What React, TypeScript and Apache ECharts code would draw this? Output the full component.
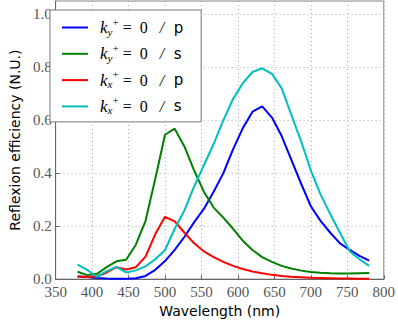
import React, { useEffect, useRef } from "react";
import * as echarts from "echarts";

const wavelengths = [
  380, 393.3, 406.7, 420, 433.3, 446.7, 460, 473.3, 486.7, 500, 513.3, 526.7, 540, 553.3, 566.7, 580,
  593.3, 606.7, 620, 633.3, 646.7, 660, 673.3, 686.7, 700, 713.3, 726.7, 740, 753.3, 766.7, 780,
];

const kyP = [
  0.01, 0.008, 0.004, 0.002, 0.001, 0.001, 0.003, 0.012, 0.035, 0.068, 0.11, 0.16, 0.215, 0.265, 0.33,
  0.4, 0.49, 0.57, 0.632, 0.652, 0.61, 0.54, 0.45, 0.36, 0.275, 0.22, 0.175, 0.135, 0.11, 0.088, 0.07,
];

const kyS = [
  0.028, 0.015, 0.02, 0.045, 0.067, 0.073, 0.13, 0.22, 0.38, 0.545, 0.568, 0.5, 0.41, 0.33, 0.27, 0.232,
  0.19, 0.145, 0.11, 0.083, 0.065, 0.05, 0.04, 0.032, 0.027, 0.024, 0.022, 0.021, 0.021, 0.022, 0.023,
];

const kxP = [
  0.01, 0.008, 0.01, 0.025, 0.045, 0.036, 0.045, 0.085, 0.17, 0.235, 0.218, 0.175, 0.135, 0.105, 0.083,
  0.065, 0.05, 0.038, 0.029, 0.022, 0.016, 0.012, 0.009, 0.007, 0.005, 0.004, 0.003, 0.002, 0.002, 0.001,
  0.001,
];

const kxS = [
  0.055, 0.035, 0.008, 0.03, 0.046, 0.025, 0.033, 0.048, 0.075, 0.11, 0.19, 0.26, 0.35, 0.43, 0.51, 0.6,
  0.68, 0.74, 0.782, 0.796, 0.775, 0.72, 0.62, 0.52, 0.41, 0.32, 0.245, 0.175, 0.105, 0.075, 0.05,
];

const xTicks = [350, 400, 450, 500, 550, 600, 650, 700, 750, 800];
const yTicks = [0.0, 0.2, 0.4, 0.6, 0.8, 1.0];

const seriesDefs = [
  { id: "kyP", sub: "y", sup: "+", pol: "p", color: "#0000ff", data: kyP },
  { id: "kyS", sub: "y", sup: "+", pol: "s", color: "#008000", data: kyS },
  { id: "kxP", sub: "x", sup: "+", pol: "p", color: "#ff0000", data: kxP },
  { id: "kxS", sub: "x", sup: "+", pol: "s", color: "#00bfbf", data: kxS },
];

const serif = "Liberation Serif";
const sans = "DejaVu Sans";

export default function App() {
  const ref = useRef<HTMLDivElement>(null);
  useEffect(() => {
    if (!ref.current) return;
    const chart = echarts.init(ref.current, undefined, { renderer: "svg" });
    const labelMap: Record<string, string> = {};
    seriesDefs.forEach((s) => {
      labelMap[s.id] = `{k|k}{sub|${s.sub}}{sup|${s.sup}}{t| =  0   }{sl|/}{p|  ${s.pol}}`;
    });
    chart.setOption({
      animation: false,
      backgroundColor: "#ffffff",
      grid: {
        left: 42.5,
        right: 9.5,
        top: 1,
        bottom: 35.3,
        show: true,
        borderColor: "#8a8a8a",
        borderWidth: 1,
        backgroundColor: "#ffffff",
      },
      xAxis: {
        type: "value",
        min: 350,
        max: 800,
        interval: 50,
        name: "Wavelength (nm)",
        nameLocation: "middle",
        nameGap: 23,
        nameTextStyle: { fontFamily: sans, fontSize: 14, color: "#000", verticalAlign: "top" },
        axisLine: { lineStyle: { color: "#666", width: 1 } },
        axisTick: { inside: true, length: 4, lineStyle: { color: "#666" } },
        axisLabel: {
          fontFamily: serif,
          fontSize: 15,
          color: "#555",
          margin: 5,
          formatter: (v: number) => (xTicks.includes(v) ? String(v) : ""),
        },
        splitLine: { show: true, lineStyle: { type: [1, 3], color: "#b0b0b0", width: 1 } },
      },
      yAxis: {
        type: "value",
        min: 0,
        max: 1.05,
        interval: 0.2,
        name: "Reflexion efficiency (N.U.)",
        nameLocation: "middle",
        nameGap: 32,
        nameTextStyle: { fontFamily: sans, fontSize: 14, color: "#000" },
        axisLine: { show: true, lineStyle: { color: "#666", width: 1 } },
        axisTick: { inside: true, length: 4, lineStyle: { color: "#666" } },
        axisLabel: {
          fontFamily: serif,
          fontSize: 15,
          color: "#555",
          margin: 4,
          showMaxLabel: false,
          formatter: (v: number) => {
            const t = yTicks.find((y) => Math.abs(y - v) < 1e-6);
            return t === undefined ? "" : t.toFixed(1);
          },
        },
        splitLine: { show: true, lineStyle: { type: [1, 3], color: "#b0b0b0", width: 1 } },
      },
      legend: {
        orient: "vertical",
        left: 50,
        top: 10,
        padding: [6, 18, 4, 12],
        itemGap: 3.3,
        itemWidth: 26,
        itemHeight: 2,
        icon: "rect",
        backgroundColor: "#ffffff",
        borderColor: "#7a7a7a",
        borderWidth: 1,
        borderRadius: 0,
        data: seriesDefs.map((s) => s.id),
        formatter: (name: string) => labelMap[name],
        textStyle: {
          color: "#000",
          rich: {
            k: { fontFamily: serif, fontStyle: "italic", fontSize: 17, lineHeight: 18, padding: [0, 0, 0, 7] },
            sub: { fontFamily: serif, fontStyle: "italic", fontSize: 11, lineHeight: 12, padding: [8, 0, 0, 0] },
            sup: { fontFamily: serif, fontSize: 11, lineHeight: 12, padding: [0, 0, 12, 0] },
            t: { fontFamily: serif, fontSize: 16, lineHeight: 18 },
            sl: { fontFamily: serif, fontStyle: "italic", fontSize: 16, lineHeight: 18 },
            p: { fontFamily: sans, fontSize: 15, lineHeight: 18 },
          },
        },
      },
      series: seriesDefs.map((s) => ({
        name: s.id,
        type: "line",
        symbol: "none",
        data: wavelengths.map((w, i) => [w, s.data[i]]),
        lineStyle: { color: s.color, width: 2 },
        itemStyle: { color: s.color },
        z: 2,
      })),
    });
    return () => chart.dispose();
  }, []);
  return <div ref={ref} style={{ width: 398, height: 323, position: "absolute", left: 0, top: 0 }} />;
}
